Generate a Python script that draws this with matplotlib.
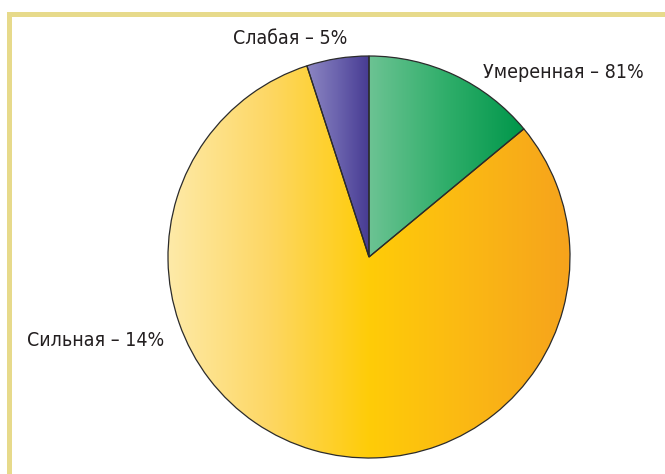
import matplotlib.pyplot as plt
import numpy as np
from matplotlib.colors import LinearSegmentedColormap
from matplotlib.patches import Rectangle

# доли (по часовой стрелке от верха) и подписи как на картинке
values = [14, 81, 5]
labels = ["Умеренная – 81%", "Сильная – 14%", "Слабая – 5%"]
label_pos = [(483, 402), (27, 134), (233, 436)]   # левый край / центр по высоте, пиксели снизу
grad_colors = [
    ["#6cc393", "#2fae6a", "#00964a"],
    ["#feeaa8", "#fdd764", "#ffcc08", "#fbb814", "#f6a31c"],
    ["#8c86c2", "#6a62ad", "#463a92"],
]

W, H = 665, 474
cx, cy, R = 369, 217, 201

fig = plt.figure(figsize=(W / 100, H / 100), dpi=100)
ax = fig.add_axes([0, 0, 1, 1])

wedges, _ = ax.pie(values, startangle=90, counterclock=False, radius=R,
                   center=(cx, cy), frame=True,
                   wedgeprops=dict(facecolor="none", edgecolor="#2b2b2b", linewidth=0.9))

for w, cols in zip(wedges, grad_colors):
    # горизонтальный градиент по ширине сектора
    bb = w.get_path().get_extents(w.get_patch_transform())
    x0, x1 = bb.x0, bb.x1
    if len(cols) > 3:
        x0, x1 = cx - R, cx + R
    cmap = LinearSegmentedColormap.from_list("g", cols)
    img = np.linspace(0, 1, 256).reshape(1, -1)
    im = ax.imshow(img, cmap=cmap, aspect="auto", extent=(x0, x1, cy - R - 2, cy + R + 2),
                   zorder=0.5, interpolation="bicubic")
    im.set_clip_path(w)
    w.set_zorder(2)

ax.set_xlim(0, W)
ax.set_ylim(0, H)
ax.axis("off")

# рамка
frame_col = "#e7da8b"
ax.add_patch(Rectangle((7, H - 17), W - 7, 5, color=frame_col, lw=0, zorder=3))
ax.add_patch(Rectangle((7, 0), 5, H - 12, color=frame_col, lw=0, zorder=3))

for lab, (x, y) in zip(labels, label_pos):
    ax.text(x, y, lab, ha="left", va="center", fontsize=14, color="#231f20",
            family="DejaVu Sans", fontstretch="condensed")

fig.savefig("out.png", dpi=100)
